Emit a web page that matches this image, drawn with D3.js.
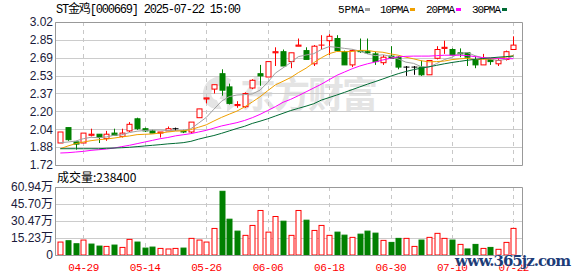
<!DOCTYPE html>
<html>
<head>
<meta charset="utf-8">
<script src="https://cdn.jsdelivr.net/npm/d3@7"></script>
<style>
  body { margin: 0; background: #fff; }
  svg { display: block; }
</style>
</head>
<body>
<svg id="chart"></svg>
<script>
// trading days shown on the chart
const dates = ["04-24","04-25","04-28","04-29","04-30","05-06","05-07","05-08","05-09","05-12",
  "05-13","05-14","05-15","05-16","05-19","05-20","05-21","05-22","05-23","05-26",
  "05-27","05-28","05-29","05-30","06-03","06-04","06-05","06-06","06-09","06-10",
  "06-11","06-12","06-13","06-16","06-17","06-18","06-19","06-20","06-23","06-24",
  "06-25","06-26","06-27","06-30","07-01","07-02","07-03","07-04","07-07","07-08",
  "07-09","07-10","07-11","07-14","07-15","07-16","07-17","07-18","07-21","07-22"];

const open  = [1.92,2.06,1.93,1.92,1.99,2.00,1.96,2.01,1.98,2.03, 2.14,2.05,2.03,2.01,2.03,2.05,2.03,2.02,2.15,2.32,
  2.41,2.55,2.43,2.26,2.25,2.42,2.55,2.52,2.74,2.75, 2.66,2.80,2.76,2.64,2.81,2.85,2.87,2.75,2.63,2.76,
  2.75,2.73,2.65,2.71,2.70,2.61,2.61,2.61,2.54,2.69, 2.78,2.77,2.74,2.74,2.67,2.63,2.68,2.64,2.68,2.77];
const high  = [2.02,2.06,1.93,2.01,2.05,2.00,2.03,2.05,2.05,2.11, 2.15,2.06,2.04,2.02,2.07,2.06,2.04,2.11,2.23,2.33,
  2.45,2.59,2.46,2.30,2.38,2.50,2.63,2.66,2.79,2.77, 2.74,2.87,2.79,2.81,2.90,2.91,2.90,2.76,2.77,2.87,
  2.87,2.75,2.72,2.80,2.71,2.62,2.62,2.67,2.67,2.80, 2.85,2.78,2.78,2.74,2.71,2.73,2.69,2.69,2.76,2.89];
const low   = [1.92,1.94,1.86,1.92,1.98,1.92,1.94,1.99,1.97,2.02, 2.04,2.02,2.01,1.97,2.03,2.03,2.01,2.01,2.15,2.28,
  2.37,2.35,2.27,2.24,2.24,2.41,2.44,2.52,2.62,2.62, 2.60,2.80,2.68,2.62,2.77,2.72,2.76,2.63,2.61,2.74,
  2.73,2.63,2.63,2.69,2.59,2.53,2.54,2.53,2.54,2.68, 2.73,2.72,2.70,2.62,2.60,2.63,2.63,2.62,2.67,2.77];
const close = [2.02,1.95,1.91,2.01,2.00,1.97,2.00,1.99,2.01,2.09, 2.05,2.03,2.01,2.02,2.05,2.05,2.02,2.11,2.23,2.33,
  2.45,2.40,2.28,2.27,2.37,2.49,2.53,2.66,2.75,2.62, 2.74,2.81,2.68,2.80,2.81,2.89,2.76,2.63,2.76,2.75,
  2.74,2.66,2.70,2.69,2.61,2.61,2.61,2.54,2.67,2.77, 2.79,2.72,2.73,2.70,2.63,2.69,2.66,2.67,2.75,2.81];

// volume, in 万 shares
const volume = [11.6,12.8,10.1,13.4,9.8,8.0,7.7,8.9,6.8,14.0, 11.6,6.2,7.1,5.9,5.4,5.9,6.2,14.9,13.4,11.6,
  23.8,57.1,32.1,21.4,17.6,26.5,39.9,20.5,34.5,30.3, 17.6,39.9,31.2,22.0,26.5,17.6,20.5,17.8,15.8,18.7,
  21.4,19.6,13.1,11.3,14.9,14.9,7.7,13.4,15.8,19.4, 14.9,13.4,9.5,5.4,9.5,5.9,6.8,5.1,11.3,23.84];

// moving averages as drawn on the chart
const ma5  = [1.923,1.929,1.938,1.959,1.972,1.968,1.975,1.990,1.995,2.015, 2.027,2.034,2.038,2.038,2.034,2.035,2.035,2.050,2.100,2.152,
  2.227,2.300,2.342,2.356,2.360,2.366,2.400,2.470,2.555,2.603, 2.650,2.705,2.720,2.732,2.770,2.796,2.790,2.780,2.772,2.756,
  2.730,2.714,2.722,2.708,2.684,2.655,2.644,2.614,2.610,2.642, 2.678,2.700,2.736,2.742,2.714,2.694,2.682,2.671,2.680,2.712];
const ma10 = [1.868,1.893,1.914,1.929,1.941,1.950,1.956,1.965,1.975,1.984, 1.996,1.999,2.002,2.011,2.020,2.028,2.030,2.042,2.063,2.085,
  2.120,2.153,2.182,2.210,2.248,2.293,2.340,2.395,2.448,2.481, 2.515,2.560,2.600,2.650,2.695,2.732,2.752,2.750,2.752,2.762,
  2.762,2.750,2.745,2.730,2.718,2.700,2.685,2.668,2.658,2.660, 2.665,2.678,2.685,2.690,2.678,2.680,2.685,2.690,2.700,2.715];
const ma20 = [1.829,1.832,1.838,1.844,1.853,1.859,1.865,1.874,1.887,1.899, 1.914,1.929,1.944,1.959,1.970,1.985,1.995,2.005,2.020,2.035,
  2.055,2.075,2.090,2.105,2.125,2.150,2.180,2.215,2.250,2.290, 2.317,2.350,2.385,2.420,2.455,2.495,2.535,2.565,2.595,2.620,
  2.640,2.656,2.675,2.690,2.703,2.708,2.710,2.710,2.710,2.714, 2.718,2.718,2.718,2.715,2.705,2.697,2.692,2.690,2.687,2.686];
const ma30 = [1.868,1.868,1.868,1.868,1.868,1.868,1.872,1.874,1.877,1.881, 1.887,1.893,1.899,1.905,1.912,1.917,1.923,1.935,1.955,1.972,
  1.988,2.008,2.030,2.052,2.072,2.098,2.118,2.140,2.165,2.190, 2.215,2.235,2.255,2.277,2.310,2.333,2.356,2.380,2.405,2.430,
  2.455,2.478,2.502,2.527,2.550,2.570,2.587,2.600,2.613,2.626, 2.640,2.652,2.662,2.672,2.680,2.688,2.694,2.700,2.705,2.710];

const dateTicks = ["04-29","05-14","05-26","06-06","06-18","06-30","07-10","07-22"];
const priceTickLabels = ["1.72","1.88","2.04","2.20","2.37","2.53","2.69","2.85","3.02"];
const volumeTickLabels = ["0","15.23万","30.47万","45.70万","60.94万"];
const maNames = ["5PMA","10PMA","20PMA","30PMA"];
const maColors = ["#a0a0a0","#f0a000","#ff00ff","#006b33"];

const W = 578, H = 276;
const left = 55, right = 522;
const pTop = 22, pBottom = 165;
const vTop = 187, vBottom = 255;
const RED = "#ff0000", GREEN = "#008000";

const svg = d3.select("#chart").attr("width", W).attr("height", H)
  .attr("viewBox", [0, 0, W, H]);

svg.append("rect").attr("width", W).attr("height", H).attr("fill", "#fff");

const x = d3.scalePoint().domain(dates).range([60.3, 513.4]);
const pMin = 1.72, pMax = 3.02;
const y = d3.scaleLinear().domain([pMin, pMax]).range([pBottom, pTop]);
const vMax = 60.94;
const yv = d3.scaleLinear().domain([0, vMax]).range([vBottom, vTop]);

const priceTicks = priceTickLabels.map((d, i) => pMin + i * (pMax - pMin) / (priceTickLabels.length - 1));
const volTicks = volumeTickLabels.map((d, i) => i * vMax / (volumeTickLabels.length - 1));

// watermark behind the price panel: swirl logo + name
const wm = svg.append("g").attr("fill", "#e4e4e4").attr("stroke", "#e4e4e4");
wm.append("path")
    .attr("d", "M230,80 C222,74 206,78 204,92 C203,102 210,109 220,108 L216,101 C211,100 209,95 211,90 C214,84 222,83 226,88 Z")
    .attr("stroke-width", 2);
wm.append("path")
    .attr("d", "M224,93 C230,94 234,99 233,106 L228,110 C229,103 226,99 221,98 Z")
    .attr("stroke-width", 2);
wm.append("text")
    .attr("x", 240).attr("y", 108)
    .attr("textLength", 138)
    .attr("stroke", "none")
    .attr("font-family", "Noto Sans CJK SC")
    .attr("font-weight", "bold")
    .attr("font-size", 36)
    .text("东方财富");

// horizontal grid
svg.append("g").selectAll("line")
  .data(priceTicks)
  .join("line")
    .attr("x1", left).attr("x2", right)
    .attr("y1", d => Math.round(y(d)) + 0.5).attr("y2", d => Math.round(y(d)) + 0.5)
    .attr("stroke", "#cccccc");

svg.append("g").selectAll("line")
  .data(volTicks)
  .join("line")
    .attr("x1", left).attr("x2", right)
    .attr("y1", d => Math.round(yv(d)) + 0.5).attr("y2", d => Math.round(yv(d)) + 0.5)
    .attr("stroke", "#cccccc");

// vertical dashed grid in both panels
const vg = svg.append("g").attr("stroke", "#c8c8c8").attr("stroke-dasharray", "4,4");
for (const [t, b] of [[pTop, pBottom], [vTop, vBottom]]) {
  vg.append("g").selectAll("line")
    .data(dateTicks)
    .join("line")
      .attr("x1", d => Math.round(x(d)) + 0.5).attr("x2", d => Math.round(x(d)) + 0.5)
      .attr("y1", t).attr("y2", b);
}

// candle colour: body direction, ties decided against the previous close
const rows = dates.map((d, i) => ({
  date: d, o: open[i], h: high[i], l: low[i], c: close[i], v: volume[i],
  prev: i > 0 ? close[i - 1] : open[i]
}));
function candleColor(d) {
  if (d.c > d.o) return RED;
  if (d.c < d.o) return GREEN;
  if (d.c > d.prev) return RED;
  if (d.c < d.prev) return GREEN;
  return "#000";
}
function volColor(d) {
  return d.c < d.prev ? GREEN : RED;
}

const bw = 5;
const candles = svg.append("g").selectAll("g")
  .data(rows)
  .join("g")
    .attr("transform", d => `translate(${Math.round(x(d.date)) + 0.5},0)`);

candles.append("line")
    .attr("y1", d => y(d.h)).attr("y2", d => y(d.l))
    .attr("stroke", candleColor);

candles.append("rect")
    .attr("x", -bw / 2)
    .attr("y", d => y(Math.max(d.o, d.c)))
    .attr("width", bw)
    .attr("height", d => Math.max(0.01, Math.abs(y(d.o) - y(d.c))))
    .attr("fill", d => candleColor(d) === RED ? "#fff" : candleColor(d))
    .attr("stroke", candleColor);

// moving average lines
[ma5, ma10, ma20, ma30].forEach((ma, k) => {
  svg.append("path")
      .datum(ma)
      .attr("fill", "none")
      .attr("stroke", maColors[k])
      .attr("stroke-width", 1)
      .attr("d", d3.line().x((d, i) => x(dates[i])).y(d => y(d)));
});

// volume bars
svg.append("g").selectAll("rect")
  .data(rows)
  .join("rect")
    .attr("x", d => Math.round(x(d.date)) + 0.5 - bw / 2)
    .attr("y", d => yv(d.v))
    .attr("width", bw)
    .attr("height", d => vBottom - yv(d.v))
    .attr("fill", d => volColor(d) === RED ? "#fff" : GREEN)
    .attr("stroke", volColor);

// panel frames
svg.append("path")
    .attr("d", `M${left + 0.5},${pTop + 0.5}H${right + 0.5}V${pBottom + 0.5}H${left + 0.5}Z`)
    .attr("fill", "none").attr("stroke", "#999");
svg.append("path")
    .attr("d", `M${left + 0.5},${vTop + 0.5}H${right + 0.5}V${vBottom + 0.5}H${left + 0.5}Z`)
    .attr("fill", "none").attr("stroke", "#999");

// axes
const yAxis = svg.append("g")
    .attr("transform", `translate(${left},0)`)
    .call(d3.axisLeft(y).tickValues(priceTicks).tickSize(0).tickPadding(2)
      .tickFormat((d, i) => priceTickLabels[i]));
yAxis.select(".domain").remove();
yAxis.selectAll("text")
    .attr("font-family", "Liberation Sans, Arial, sans-serif")
    .attr("font-size", 12).attr("fill", "#1a1a3a");

const vAxis = svg.append("g")
    .attr("transform", `translate(${left},0)`)
    .call(d3.axisLeft(yv).tickValues(volTicks).tickSize(0).tickPadding(2)
      .tickFormat((d, i) => volumeTickLabels[i]));
vAxis.select(".domain").remove();
vAxis.selectAll("text")
    .attr("font-family", "Liberation Sans, Noto Sans CJK SC, sans-serif")
    .attr("font-size", 12).attr("fill", "#1a1a3a");

const xAxis = svg.append("g")
    .attr("transform", `translate(0,${vBottom})`)
    .call(d3.axisBottom(x).tickValues(dateTicks).tickSize(0).tickPadding(8));
xAxis.select(".domain").remove();
xAxis.selectAll("text")
    .attr("font-family", "Liberation Mono, monospace")
    .attr("font-size", 11).attr("fill", RED)
    .attr("textLength", 31);

// header
svg.append("text")
    .attr("x", 56).attr("y", 13)
    .attr("font-family", "Liberation Mono, Noto Sans CJK SC, monospace")
    .attr("font-size", 12).attr("fill", "#000")
    .attr("textLength", 185)
    .text("ST金鸡[000669] 2025-07-22 15:00");

const legendX = [338, 380, 426, 472];
const legendW = [26, 29, 29, 29];
const legend = svg.append("g").selectAll("g")
  .data(maNames)
  .join("g")
    .attr("transform", (d, i) => `translate(${legendX[i]},0)`);
legend.append("text")
    .attr("y", 13)
    .attr("font-family", "Liberation Mono, monospace")
    .attr("font-size", 11).attr("fill", "#000")
    .attr("textLength", (d, i) => legendW[i])
    .text(d => d);
legend.append("rect")
    .attr("x", (d, i) => legendW[i] + 1).attr("y", 8)
    .attr("width", 5).attr("height", 3)
    .attr("fill", (d, i) => maColors[i]);

svg.append("text")
    .attr("x", 57).attr("y", 182)
    .attr("font-family", "Noto Sans CJK SC, sans-serif")
    .attr("font-size", 12).attr("fill", "#000")
    .text("成交量:" + Math.round(volume[volume.length - 1] * 10000));

// site stamp in the corner (it sits over the last date labels, as in the source image)
svg.append("text")
    .attr("x", 455).attr("y", 266)
    .attr("textLength", 116)
    .attr("font-family", "DejaVu Serif, serif")
    .attr("font-weight", "bold")
    .attr("font-size", 15)
    .attr("fill", "#1d3c78")
    .attr("stroke", "#fff").attr("stroke-width", 0.6)
    .attr("paint-order", "stroke")
    .text("www.365jz.com");
</script>
</body>
</html>
